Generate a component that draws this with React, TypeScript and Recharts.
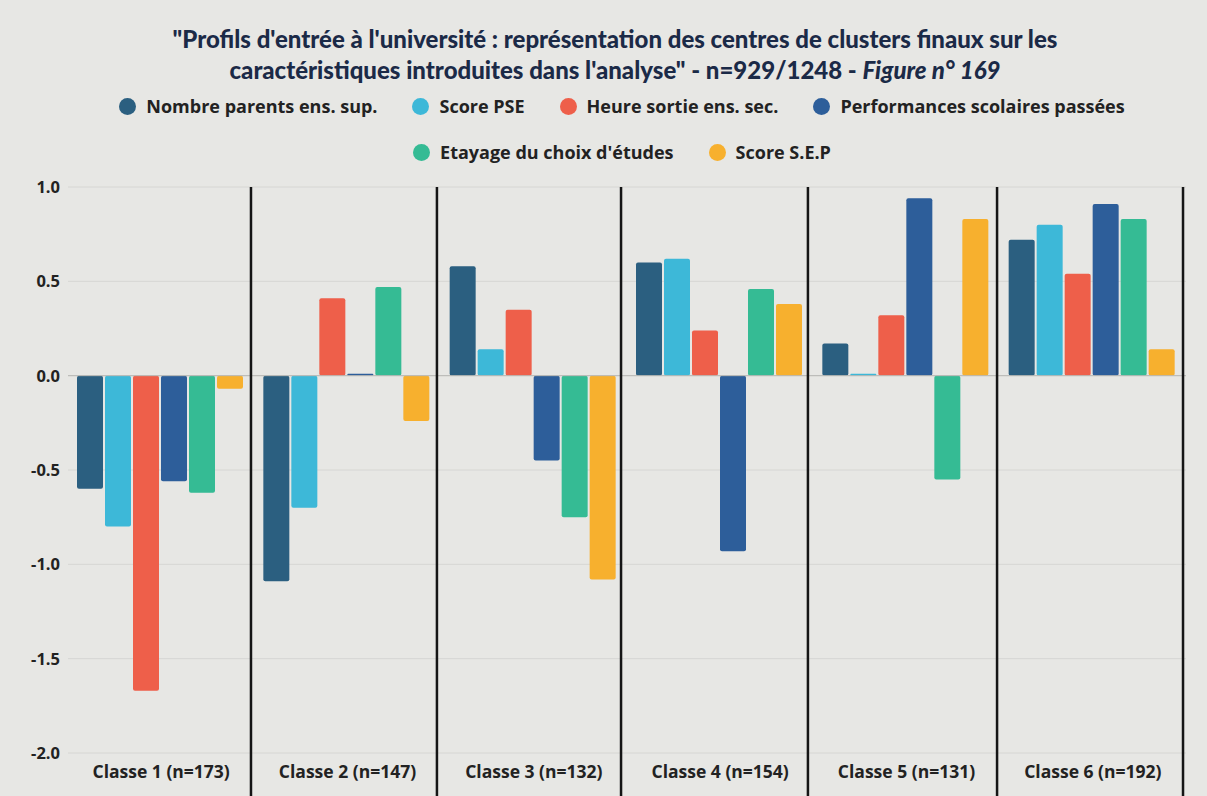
import { BarChart, Bar, XAxis, YAxis, CartesianGrid, ReferenceLine } from 'recharts';

const classes = [
  'Classe 1 (n=173)',
  'Classe 2 (n=147)',
  'Classe 3 (n=132)',
  'Classe 4 (n=154)',
  'Classe 5 (n=131)',
  'Classe 6 (n=192)',
];

const nombreParents = [-0.6, -1.09, 0.58, 0.6, 0.17, 0.72];
const scorePse = [-0.8, -0.7, 0.14, 0.62, 0.01, 0.8];
const heureSortie = [-1.67, 0.41, 0.35, 0.24, 0.32, 0.54];
const performances = [-0.56, 0.01, -0.45, -0.93, 0.94, 0.91];
const etayage = [-0.62, 0.47, -0.75, 0.46, -0.55, 0.83];
const scoreSep = [-0.07, -0.24, -1.08, 0.38, 0.83, 0.14];

const yTicks = [-2, -1.5, -1, -0.5, 0, 0.5, 1];
// separator positions, in category units (0..6)
const separators = [0.982, 1.98, 2.968, 3.971, 4.986, 5.984];

const series = [
  { key: 'nombreParents', name: 'Nombre parents ens. sup.', color: '#2b5f80' },
  { key: 'scorePse', name: 'Score PSE', color: '#3db8d8' },
  { key: 'heureSortie', name: 'Heure sortie ens. sec.', color: '#ee5f4a' },
  { key: 'performances', name: 'Performances scolaires passées', color: '#2d5e9a' },
  { key: 'etayage', name: "Etayage du choix d'études", color: '#35bb94' },
  { key: 'scoreSep', name: 'Score S.E.P', color: '#f7b02e' },
];

const data = classes.map((name, i) => ({
  name,
  nombreParents: nombreParents[i],
  scorePse: scorePse[i],
  heureSortie: heureSortie[i],
  performances: performances[i],
  etayage: etayage[i],
  scoreSep: scoreSep[i],
}));

const font = '"Open Sans", "DejaVu Sans", sans-serif';

function LegendItem({ name, color }: { name: string; color: string }) {
  return (
    <div style={{ display: 'flex', alignItems: 'center', gap: 10 }}>
      <span style={{ width: 17, height: 17, borderRadius: '50%', background: color, display: 'inline-block' }} />
      <span>{name}</span>
    </div>
  );
}

function ClassTick(props: any) {
  const { x, y, payload } = props;
  return (
    <text x={x} y={y + 17} textAnchor="middle" fontSize={17.5} fontWeight={700} fill="#222" fontFamily={font}>
      {payload.value}
    </text>
  );
}

export default function App() {
  return (
    <div
      style={{
        position: 'fixed',
        left: 0,
        top: 0,
        width: 1207,
        height: 796,
        background: '#e7e7e4',
        overflow: 'hidden',
      }}
    >
      <div
        style={{
          position: 'absolute',
          top: 23,
          left: 20,
          width: 1190,
          textAlign: 'center',
          fontFamily: 'Lato, sans-serif',
          fontWeight: 900,
          fontSize: 24,
          lineHeight: '31px',
          color: '#1b2a47',
        }}
      >
        "Profils d'entrée à l'université : représentation des centres de clusters finaux sur les
        <br />
        caractéristiques introduites dans l'analyse" - n=929/1248 - <i>Figure n° 169</i>
      </div>
      <div
        style={{
          position: 'absolute',
          top: 94,
          left: 37,
          width: 1170,
          display: 'flex',
          flexWrap: 'wrap',
          justifyContent: 'center',
          columnGap: 35,
          rowGap: 11,
          fontFamily: font,
          fontWeight: 700,
          fontSize: 18,
          lineHeight: '24px',
          color: '#222',
        }}
      >
        {series.slice(0, 4).map((s) => (
          <LegendItem key={s.key} name={s.name} color={s.color} />
        ))}
        <div style={{ flexBasis: '100%', height: 0 }} />
        {series.slice(4).map((s) => (
          <LegendItem key={s.key} name={s.name} color={s.color} />
        ))}
      </div>
      <div style={{ position: 'absolute', left: 0, top: 0 }}>
        <BarChart
          width={1207}
          height={796}
          data={data}
          margin={{ top: 187, right: 21, left: 0, bottom: 0 }}
          barCategoryGap={9}
          barGap={2}
        >
          <CartesianGrid vertical={false} stroke="#d6d6d3" />
          <XAxis
            dataKey="name"
            height={43}
            axisLine={false}
            tickLine={false}
            tick={<ClassTick />}
            interval={0}
          />
          <XAxis xAxisId="sep" dataKey="sepPos" type="number" domain={[0, 6]} allowDataOverflow hide />
          <YAxis
            width={68}
            domain={[-2, 1]}
            ticks={yTicks}
            axisLine={false}
            tickLine={false}
            tickFormatter={(v: number) => v.toFixed(1)}
            tick={{ fontSize: 16.5, fontWeight: 700, fill: '#222', fontFamily: font }}
          />
          <ReferenceLine y={0} stroke="#b8b8b5" strokeWidth={1} />
          {series.map((s) => (
            <Bar
              key={s.key}
              dataKey={s.key}
              name={s.name}
              fill={s.color}
              radius={2}
              isAnimationActive={false}
            />
          ))}
          {separators.map((p) => (
            <ReferenceLine
              key={p}
              xAxisId="sep"
              segment={[
                { x: p, y: 1 },
                { x: p, y: -2.25 },
              ]}
              ifOverflow="visible"
              stroke="#151515"
              strokeWidth={2.5}
            />
          ))}
        </BarChart>
      </div>
    </div>
  );
}
